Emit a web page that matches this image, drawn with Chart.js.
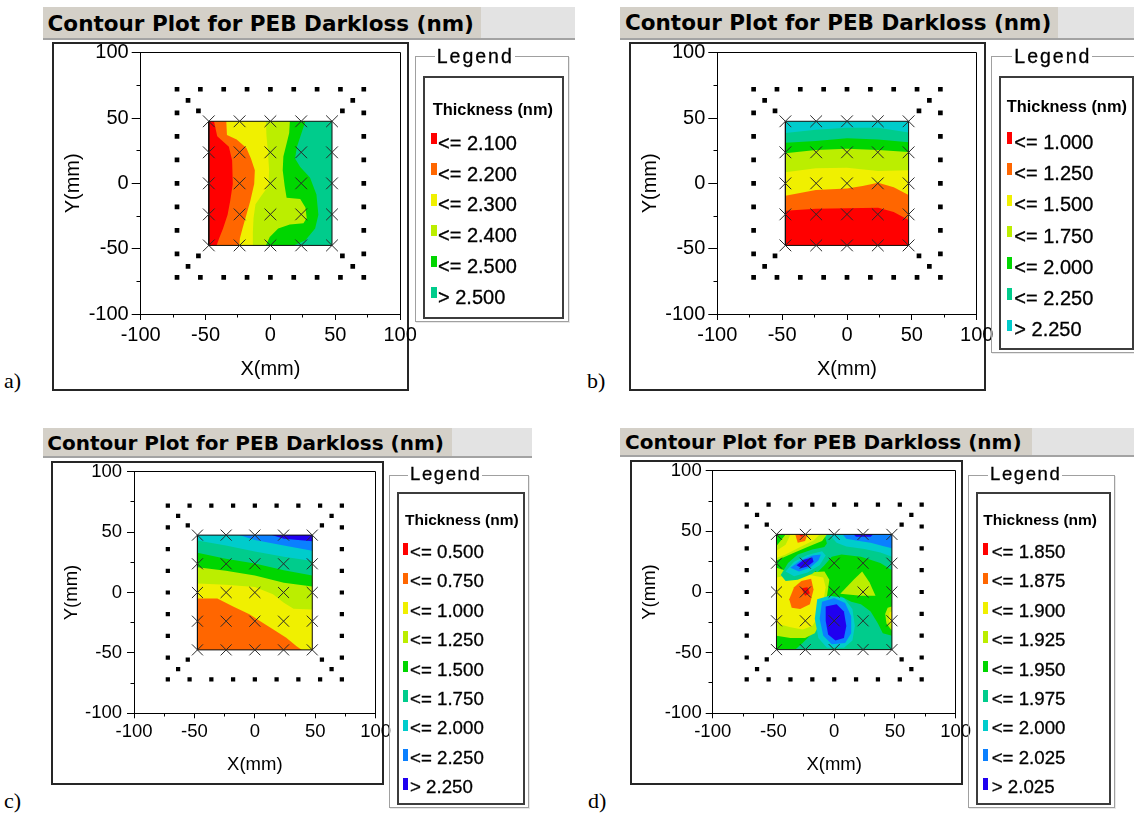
<!DOCTYPE html>
<html><head><meta charset="utf-8">
<script src="https://cdn.jsdelivr.net/npm/chart.js@4.4.1/dist/chart.umd.min.js"></script>
<style>
html,body{margin:0;padding:0;background:#fff;}
#root{position:relative;width:1134px;height:816px;overflow:hidden;background:#fff;color:#000;}
</style></head><body><div id="root"></div>
<script>
// ---------------- data ----------------
const TITLE = 'Contour Plot for PEB Darkloss (nm)';
const X_TITLE = 'X(mm)';
const Y_TITLE = 'Y(mm)';
const LEGEND_TITLE = 'Legend';
const LEGEND_SUB = 'Thickness (nm)';
const AXIS_TICKS = [-100, -50, 0, 50, 100];
const MINOR_TICKS = [-75, -25, 25, 75];
const MEAS = [-47.5, -23.75, 0, 23.75, 47.5];
const SITE_X = [-72,-54,-36,-18,0,18,36,54,72, -72,-54,-36,-18,0,18,36,54,72,
  -72,-72,-72,-72,-72,-72,-72, 72,72,72,72,72,72,72,
  -63.5,-55.5,63.5,55.5,-63.5,-55.5,63.5,55.5];
const SITE_Y = [72,72,72,72,72,72,72,72,72, -72,-72,-72,-72,-72,-72,-72,-72,-72,
  54,36,18,0,-18,-36,-54, 54,36,18,0,-18,-36,-54,
  63.5,55.5,63.5,55.5,-63.5,-55.5,-63.5,-55.5];

const PALETTE = ['#ff0000','#ff6600','#f0f000','#bbee00','#00d600','#00cc8c','#00cccc','#0a80ff','#2000f0'];

const A_LEVELS = ['<= 2.100','<= 2.200','<= 2.300','<= 2.400','<= 2.500','> 2.500'];
const B_LEVELS = ['<= 1.000','<= 1.250','<= 1.500','<= 1.750','<= 2.000','<= 2.250','> 2.250'];
const C_LEVELS = ['<= 0.500','<= 0.750','<= 1.000','<= 1.250','<= 1.500','<= 1.750','<= 2.000','<= 2.250','> 2.250'];
const D_LEVELS = ['<= 1.850','<= 1.875','<= 1.900','<= 1.925','<= 1.950','<= 1.975','<= 2.000','<= 2.025','> 2.025'];

// contour band boundaries (mm), [band index, points]
const A_REGIONS = [
  [4, [[27,47.5],[24,38.5],[20.5,28],[19,19],[23,12.5],[30.5,4.5],[35.5,-8.5],[37,-24],[34.5,-34.5],[27,-43.5],[18,-47.5]]],
  [3, [[15,47.5],[14.5,38.5],[12.5,30.5],[10,20.5],[9.5,10],[11,-2],[12.5,-11],[23,-12],[27,-18.5],[28,-26.5],[25.5,-30.5],[15,-31.5],[6,-34.5],[-0.5,-41],[-3.5,-47.5]]],
  [2, [[-3.5,47.5],[-3,36],[-2,25.5],[-1,10],[-1.5,-2],[-7,-9.5],[-11.5,-16],[-13,-26.5],[-13.5,-37],[-13.5,-47.5]]],
  [1, [[-34,47.5],[-33.5,37],[-26,33.5],[-18.5,27],[-15,19],[-12,10],[-12.5,-0.5],[-15.5,-13.5],[-18.5,-24],[-21.5,-34.5],[-23.5,-42],[-24,-47.5]]],
  [0, [[-43.5,47.5],[-41,36],[-32,28],[-29.5,17.5],[-29,-0.5],[-31,-13.5],[-33,-24],[-36.5,-34.5],[-39.5,-42],[-41.5,-47.5]]]
];
const B_REGIONS = [
  [5, [[-47.5,38.5],[-24,41],[0,42.5],[24,42.5],[47.5,39]]],
  [4, [[-47.5,31],[-24,32.5],[0,34.5],[24,33.5],[47.5,31.5]]],
  [3, [[-47.5,23],[-24,25.5],[0,26.5],[24,25.5],[47.5,24]]],
  [2, [[-47.5,8.5],[-24,11.5],[0,12],[24,9.5],[47.5,10]]],
  [1, [[-47.5,-9.5],[-24,-5],[0,-4],[12,-2],[24,0.5],[36,-3],[47.5,-9]]],
  [0, [[-47.5,-21],[-24,-19.5],[0,-19],[24,-18.7],[36,-22],[47.5,-28]]]
];
const C_REGIONS = [
  [2, [[-47.5,-5],[-31,-5],[-18,-11.5],[-4.5,-18],[2.5,-22.5],[15,-30.5],[26,-37.5],[34.5,-44.5],[39,-47.5]]],
  [3, [[-47.5,7.5],[-24,6.5],[0,4.5],[15,-1.5],[24,-8.5],[32,-13.5],[47.5,-14]]],
  [4, [[-47.5,21],[-24,18],[0,14],[24,8],[47.5,5]]],
  [5, [[-47.5,33],[-24,28],[0,24],[24,18.5],[47.5,14]]],
  [6, [[-47.5,43],[-24,39],[0,34],[24,29.5],[47.5,26]]],
  [7, [[-13,47.5],[0,43.5],[24,39],[47.5,34.5]]],
  [8, [[14,47.5],[24,44.5],[47.5,42.5]]]
];
const D_REGIONS = [
  [5, [[-8,47.5],[47.5,47.5],[47.5,18],[38,24],[22,29],[6,31],[-2,29],[-8,22],[-14,16],[-18,20],[-12,32],[-6,40]]],
  [6, [[-4,47.5],[47.5,47.5],[47.5,29],[38,32.5],[25,35.5],[10,37.5],[2,40.5]]],
  [7, [[7,47.5],[47.5,47.5],[47.5,36],[40,38],[30,40.5],[18,42.5],[10,44]]],
  [8, [[16,47.5],[32,47.5],[30,45.5],[18,45.5]]],
  [5, [[-32,-47.5],[-26,-42],[-20,-36],[-18,-24],[-14,-10],[-6,-4],[6,-4],[14,-8],[22,-10],[30,-16],[36,-26],[40,-34],[47.5,-36],[47.5,-47.5]]],
  [3, [[-47.5,20],[-38,17],[-22,16],[-8,17],[-4,10],[-6,-4],[-10,-14],[-12,-26],[-16,-34],[-24,-38],[-36,-38],[-47.5,-36]]],
  [2, [[-47.5,12],[-36,14],[-20,14],[-9,12],[-7,4],[-9,-8],[-13,-20],[-18,-28],[-26,-31],[-36,-29],[-47.5,-26]]],
  [1, [[-37,-6],[-33,4],[-27,9],[-19,11],[-17,2],[-20,-10],[-28,-14],[-35,-13]]],
  [0, [[-27,3],[-22,4],[-20,-1],[-24,-3]]],
  [3, [[-40,47.5],[-6,47.5],[-10,42],[-22,37],[-34,32],[-47.5,26],[-47.5,38]]],
  [2, [[-36,47.5],[-12,47.5],[-17,42.5],[-28,37],[-40,31],[-47.5,28],[-47.5,34],[-40,39]]],
  [1, [[-32,47.5],[-22,47.5],[-24,42],[-30,40.5]]],
  [0, [[-29,47.5],[-25,47.5],[-27,45.5]]],
  [5, [[-44,14],[-38,24],[-30,31],[-18,35],[-8,37],[-4,33],[-8,24],[-18,15],[-30,10],[-40,9]]],
  [6, [[-40,17],[-33,25],[-22,30.5],[-10,33.5],[-7,30],[-12,22],[-22,16],[-33,13]]],
  [7, [[-36,20],[-28,26],[-18,30],[-11,31],[-13,26],[-20,20],[-29,17]]],
  [8, [[-31,22],[-25,26.5],[-18,28.5],[-17,25],[-22,21],[-27,19.5]]],
  [3, [[5,-1.5],[16,10],[23,17],[29,8],[34,-3],[22,-3]]],
  [6, [[-14,-6],[-4,-3],[8,-5],[15,-14],[17,-28],[15,-40],[8,-46],[-6,-46],[-13,-38],[-16,-22]]],
  [7, [[-10,-8],[0,-5],[9,-9],[14,-20],[14,-34],[9,-42],[-2,-43],[-9,-36],[-12,-22]]],
  [8, [[-7,-12],[2,-10],[8,-16],[10,-28],[8,-38],[1,-40],[-5,-35],[-7,-24]]],
  [3, [[44,-13],[47.5,-12],[47.5,-32],[43,-26],[42,-18]]],
  [2, [[45.5,-17],[47.5,-16],[47.5,-28],[45,-24]]]
];

// ---------------- layout ----------------
const LAYOUTS = {
  a: {letter:[4,388], bar:[43.4,6.7,531.6,31.3,437.6], titleX:47.6, titleCap:23, titleFont:21.5,
      frame:[52,42,357,349], canvas:[53,30,385,360], yw:87.7, pr:37.9, pt:22.7, xh:76,
      tickFont:20, yTick:[9,3], xTick:[6,3], yTitlePad:8.4, xTitlePad:9, dotR:3.3, markR:8.3,
      group:[415,56,154,266], inner:[422.7,76,141.3,243], legX:436.7, legCap:56.3, legFont:19.5, legLs:2,
      subX:432.7, subCap:108.7, subFont:16.4, swX:430.7, swW:6, swH:11.5, swOff:-10,
      itemX:438, itemY0:142.5, itemDy:30.8, itemFont:20},
  b: {letter:[587,388], bar:[620,6.7,514,31.3,437.6], titleX:625, titleCap:22.8, titleFont:21.5,
      frame:[629,42,357,349], canvas:[630,30,385,360], yw:87.3, pr:38.3, pt:22.7, xh:76,
      tickFont:20, yTick:[9,3], xTick:[6,3], yTitlePad:8, xTitlePad:9, dotR:3.3, markR:8.3,
      group:[991,56,160,297], inner:[999,76,135,274], legX:1014.3, legCap:56.3, legFont:19.5, legLs:2,
      subX:1006.7, subCap:105.8, subFont:16.4, swX:1006.7, swW:5, swH:11.5, swOff:-9.5,
      itemX:1014.3, itemY0:141.7, itemDy:31.25, itemFont:20},
  c: {letter:[4,808], bar:[43.3,428.3,488.4,28,408.4], titleX:47.3, titleCap:442.8, titleFont:20,
      frame:[51,461,333,324], canvas:[52,450,360,335], yw:82, pr:36.3, pt:21.7, xh:71.7,
      tickFont:18.5, yTick:[7,5], xTick:[5,3], yTitlePad:8.6, xTitlePad:8.9, dotR:3.0, markR:7.8,
      group:[389.3,475,140,333.3], inner:[396.7,491.7,128.3,313.3], legX:410, legCap:473.7, legFont:18.5, legLs:1.6,
      subX:405, subCap:519.2, subFont:15.5, swX:403.3, swW:5, swH:11.5, swOff:-9,
      itemX:410, itemY0:552.2, itemDy:29.4, itemFont:18.7},
  d: {letter:[588,808], bar:[620,428.3,514,27,411.7], titleX:625, titleCap:442, titleFont:20,
      frame:[630,460,333,325], canvas:[631,449,360,336], yw:81.7, pr:35.3, pt:21.7, xh:71.7,
      tickFont:18.5, yTick:[7,4], xTick:[5,3], yTitlePad:7.9, xTitlePad:8.6, dotR:3.0, markR:7.8,
      group:[968.3,475,146.7,333.3], inner:[976,491.7,134.7,313.3], legX:990, legCap:473.7, legFont:18.5, legLs:1.6,
      subX:983.3, subCap:519.2, subFont:15.5, swX:983.3, swW:5, swH:11.5, swOff:-9,
      itemX:991.7, itemY0:552.2, itemDy:29.4, itemFont:18.7}
};

const PANELS = [
  {letter:'a)', levels:A_LEVELS, base:5, side:'left', regions:A_REGIONS, L:LAYOUTS.a},
  {letter:'b)', levels:B_LEVELS, base:6, side:'below', regions:B_REGIONS, L:LAYOUTS.b},
  {letter:'c)', levels:C_LEVELS, base:1, side:'above', regions:C_REGIONS, L:LAYOUTS.c},
  {letter:'d)', levels:D_LEVELS, base:4, side:'none', regions:D_REGIONS, L:LAYOUTS.d}
];

// ---------------- rendering ----------------
const SANS = "'Liberation Sans', Arial, sans-serif";
const K_SANS = 0.4885, K_DJ = 0.4815, K_SERIF_BASE = 0.8375;
const STROKE = '-webkit-text-stroke:0.3px #000;';
const root = document.getElementById('root');
function box(css, text) {
  const e = document.createElement('div');
  e.style.cssText = 'position:absolute;white-space:nowrap;' + css;
  if (text !== undefined) e.textContent = text;
  root.appendChild(e);
  return e;
}

Chart.defaults.font.family = SANS;
Chart.defaults.color = '#000';

const frameTicks = {
  id: 'frameTicks',
  afterDraw(chart, args, opts) {
    const {ctx, chartArea: a, scales: {x, y}} = chart;
    const al = v => Math.round(v - 0.5) + 0.5;
    ctx.save();
    ctx.strokeStyle = '#000';
    ctx.lineWidth = 1;
    ctx.beginPath();
    ctx.moveTo(al(a.left), al(a.top));
    ctx.lineTo(al(a.right), al(a.top));
    ctx.lineTo(al(a.right), al(a.bottom));
    MINOR_TICKS.forEach(v => {
      const px = al(x.getPixelForValue(v));
      ctx.moveTo(px, al(a.bottom));
      ctx.lineTo(px, al(a.bottom) + opts.xLen);
      const py = al(y.getPixelForValue(v));
      ctx.moveTo(al(a.left) - opts.yLen, py);
      ctx.lineTo(al(a.left), py);
    });
    ctx.stroke();
    ctx.restore();
  }
};

function makeChart(cv, P) {
  const L = P.L;
  const E = MEAS[MEAS.length - 1];
  const corners = {
    left: [[-E,-E],[-E,E]],
    below: [[E,-E],[-E,-E]],
    above: [[E,-E],[E,E],[-E,E]],
    none: []
  };
  const square = [[-E,-E],[E,-E],[E,E],[-E,E]];
  const regions = [[P.base, square]].concat(P.regions.map(([b, pts]) => [b, pts.concat(corners[P.side])]));
  const colors = PALETTE.slice(0, P.levels.length);
  const measPts = [];
  MEAS.forEach(yv => MEAS.forEach(xv => measPts.push({x: xv, y: yv})));
  const sites = SITE_X.map((xv, i) => ({x: xv, y: SITE_Y[i]}));
  const datasets = [
    {type:'scatter', data: measPts, pointStyle:'crossRot', pointRadius:L.markR, pointHoverRadius:L.markR,
     borderColor:'#2a2a2a', backgroundColor:'transparent', borderWidth:1, order:0},
    {type:'line', data: square.concat([square[0]]).map(([xv,yv]) => ({x:xv, y:yv})), borderColor:'#111',
     borderWidth:1, fill:false, pointRadius:0, order:1},
    {type:'scatter', data: sites, pointStyle:'rect', pointRadius:L.dotR, pointHoverRadius:L.dotR,
     backgroundColor:'#000', borderWidth:0, order:2}
  ];
  regions.forEach(([b, pts], i) => {
    datasets.push({type:'line', data: pts.map(([xv,yv]) => ({x:xv, y:yv})), fill:'shape',
      backgroundColor: colors[b], borderColor: colors[b], borderWidth:0, pointRadius:0, order: 1000 - i});
  });
  const axis = (pos, title, tick, pad, fit) => ({
    type:'linear', position:pos, min:-100, max:100,
    afterBuildTicks: s => { s.ticks = AXIS_TICKS.map(v => ({value: v})); },
    ticks:{font:{size:L.tickFont}, color:'#000', padding:tick[1], maxRotation:0, autoSkip:false},
    grid:{drawOnChartArea:false, drawTicks:true, tickLength:tick[0], color:'#000', tickColor:'#000'},
    border:{display:true, color:'#000', width:1},
    title:{display:true, text:title, color:'#000', font:{size:L.tickFont}, padding:pad},
    afterFit: fit
  });
  new Chart(cv, {
    type:'scatter',
    data:{datasets},
    options:{
      responsive:false, animation:false, devicePixelRatio:1, events:[],
      layout:{padding:{left:0, top:L.pt, right:L.pr, bottom:0}},
      scales:{
        x: axis('bottom', X_TITLE, L.xTick, {top:0, bottom:L.xTitlePad}, s => { s.height = L.xh; }),
        y: axis('left', Y_TITLE, L.yTick, {top:L.yTitlePad, bottom:0}, s => { s.width = L.yw; })
      },
      plugins:{legend:{display:false}, tooltip:{enabled:false}, frameTicks:{xLen:3, yLen:4}}
    },
    plugins:[frameTicks]
  });
}

function buildPanel(P) {
  const L = P.L;
  box(`left:${L.bar[0]}px;top:${L.bar[1]}px;width:${L.bar[2]}px;height:${L.bar[3]}px;background:#e3e3e3;border-bottom:2px solid #a3a3a3;`);
  box(`left:${L.bar[0]}px;top:${L.bar[1]}px;width:${L.bar[4]}px;height:${L.bar[3]}px;background:#d4d0c8;`);
  box(`left:${L.titleX}px;top:${L.titleCap - K_DJ*L.titleFont}px;font:bold ${L.titleFont}px 'DejaVu Sans';line-height:1;color:#000;`, TITLE);
  box(`left:${L.frame[0]}px;top:${L.frame[1]}px;width:${L.frame[2]}px;height:${L.frame[3]}px;border:2px solid #262626;box-sizing:border-box;`);
  const cv = document.createElement('canvas');
  cv.width = L.canvas[2]; cv.height = L.canvas[3];
  cv.style.cssText = `position:absolute;left:${L.canvas[0]}px;top:${L.canvas[1]}px;width:${L.canvas[2]}px;height:${L.canvas[3]}px;`;
  root.appendChild(cv);
  // legend
  box(`left:${L.group[0]}px;top:${L.group[1]}px;width:${L.group[2]}px;height:${L.group[3]}px;border:1px solid #a0a0a0;box-sizing:border-box;box-shadow:1px 1px 0 #e8e8e8;`);
  box(`left:${L.legX - 2}px;top:${L.legCap - K_SANS*L.legFont}px;font:${L.legFont}px ${SANS};line-height:1;letter-spacing:${L.legLs}px;background:#fff;padding:0 1px 0 2px;${STROKE}`, LEGEND_TITLE);
  box(`left:${L.inner[0]}px;top:${L.inner[1]}px;width:${L.inner[2]}px;height:${L.inner[3]}px;border:2px solid #3c3c3c;box-sizing:border-box;`);
  box(`left:${L.subX}px;top:${L.subCap - K_SANS*L.subFont}px;font:bold ${L.subFont}px ${SANS};line-height:1;`, LEGEND_SUB);
  P.levels.forEach((lab, i) => {
    const cy = L.itemY0 + i*L.itemDy;
    box(`left:${L.swX}px;top:${cy + L.swOff}px;width:${L.swW}px;height:${L.swH}px;background:${PALETTE[i]};`);
    box(`left:${L.itemX}px;top:${cy - K_SANS*L.itemFont}px;font:${L.itemFont}px ${SANS};line-height:1;${STROKE}`, lab);
  });
  box(`left:${L.letter[0]}px;top:${L.letter[1] - K_SERIF_BASE*22}px;font:22px 'Liberation Serif';line-height:1;`, P.letter);
  makeChart(cv, P);
}

PANELS.forEach(buildPanel);
</script></body></html>
